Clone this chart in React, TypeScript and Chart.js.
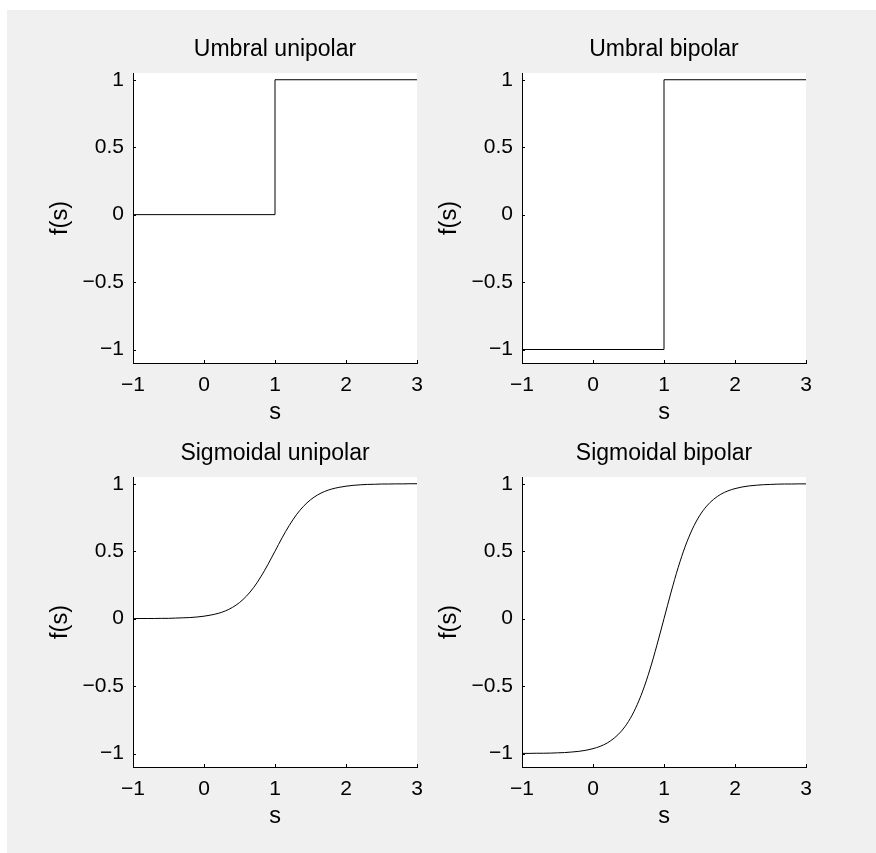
import React, { useEffect, useRef } from "react";
import { Chart, registerables } from "chart.js";

Chart.register(...registerables);

// ---- data ----
const stepS = [-1, 1, 1, 3];
const umbralUnipolar = [0, 0, 1, 1];
const umbralBipolar = [-1, -1, 1, 1];

const sigmoidS = [
  -1.0, -0.9, -0.8, -0.7, -0.6, -0.5, -0.4, -0.3, -0.2, -0.1,
  0.0, 0.1, 0.2, 0.3, 0.4, 0.5, 0.6, 0.7, 0.8, 0.9,
  1.0, 1.1, 1.2, 1.3, 1.4, 1.5, 1.6, 1.7, 1.8, 1.9,
  2.0, 2.1, 2.2, 2.3, 2.4, 2.5, 2.6, 2.7, 2.8, 2.9, 3.0,
];
const sigmoidUnipolar = [
  0.0, 0.001, 0.001, 0.001, 0.002, 0.002, 0.004, 0.006, 0.008, 0.012,
  0.018, 0.027, 0.039, 0.057, 0.083, 0.119, 0.168, 0.231, 0.31, 0.401,
  0.5, 0.599, 0.69, 0.769, 0.832, 0.881, 0.917, 0.943, 0.961, 0.973,
  0.982, 0.988, 0.992, 0.995, 0.996, 0.998, 0.998, 0.999, 0.999, 1.0, 1.0,
];
const sigmoidBipolar = [
  -0.999, -0.999, -0.998, -0.998, -0.997, -0.995, -0.993, -0.989, -0.984, -0.976,
  -0.964, -0.947, -0.922, -0.885, -0.834, -0.762, -0.664, -0.537, -0.38, -0.197,
  0.0, 0.197, 0.38, 0.537, 0.664, 0.762, 0.834, 0.885, 0.922, 0.947,
  0.964, 0.976, 0.984, 0.989, 0.993, 0.995, 0.997, 0.998, 0.998, 0.999, 0.999,
];

const xTicks = [-1, 0, 1, 2, 3];
const yTicks = [-1, -0.5, 0, 0.5, 1];
const xLimits = [-1, 3];
const yLimits = [-1.1, 1.05];

const titles = ["Umbral unipolar", "Umbral bipolar", "Sigmoidal unipolar", "Sigmoidal bipolar"];
const xLabel = "s";
const yLabel = "f(s)";

// ---- layout ----
const FONT = "'Liberation Sans', Arial, Helvetica, sans-serif";
const TICK_SIZE = 21;
const LABEL_SIZE = 23.5;
const TITLE_SIZE = 23;
const Y_AXIS_W = 93;
const X_AXIS_H = 65;
const TITLE_H = 37;
const RIGHT_PAD = 16;
const PLOT_W = 284;
const PLOT_H = 290;

const fmt = (v: number) => (v < 0 ? "\u2212" + String(Math.abs(v)) : String(v));

const plotBg = {
  id: "plotBg",
  beforeDraw(chart: any) {
    const { ctx, chartArea: a } = chart;
    ctx.save();
    ctx.fillStyle = "#ffffff";
    ctx.fillRect(a.left, a.top, a.right - a.left, a.bottom - a.top);
    ctx.restore();
  },
};

const inwardTicks = {
  id: "inwardTicks",
  afterDraw(chart: any) {
    const { ctx, chartArea: a, scales } = chart;
    const x = scales.x;
    const y = scales.y;
    ctx.save();
    ctx.strokeStyle = "#000";
    ctx.lineWidth = 1;
    ctx.beginPath();
    x.ticks.forEach((t: any) => {
      const px = Math.round(x.getPixelForValue(t.value)) + 0.5;
      ctx.moveTo(px, a.bottom);
      ctx.lineTo(px, a.bottom - 3);
    });
    y.ticks.forEach((t: any) => {
      const py = Math.round(y.getPixelForValue(t.value)) + 0.5;
      ctx.moveTo(a.left, py);
      ctx.lineTo(a.left + 3, py);
    });
    ctx.stroke();
    ctx.restore();
  },
};

type PanelProps = {
  title: string;
  xs: number[];
  ys: number[];
  smooth: boolean;
  plotLeft: number;
  plotTop: number;
};

function Panel({ title, xs, ys, smooth, plotLeft, plotTop }: PanelProps) {
  const ref = useRef<HTMLCanvasElement | null>(null);
  const width = Y_AXIS_W + PLOT_W + RIGHT_PAD;
  const height = TITLE_H + PLOT_H + X_AXIS_H;

  useEffect(() => {
    if (!ref.current) return;
    const chart = new Chart(ref.current, {
      type: "line",
      data: {
        datasets: [
          {
            data: xs.map((x, i) => ({ x, y: ys[i] })),
            borderColor: "#000",
            borderWidth: 1,
            pointRadius: 0,
            fill: false,
            tension: 0,
            cubicInterpolationMode: smooth ? "monotone" : "default",
          } as any,
        ],
      },
      options: {
        responsive: false,
        animation: false,
        devicePixelRatio: 1,
        layout: { padding: { left: 0, right: RIGHT_PAD, top: 0, bottom: 0 } },
        plugins: {
          legend: { display: false },
          tooltip: { enabled: false },
          title: {
            display: true,
            fullSize: false,
            text: title,
            color: "#000",
            font: { family: FONT, size: TITLE_SIZE, weight: "normal", lineHeight: "28px" } as any,
            padding: { top: 0, bottom: 9 },
          },
        },
        scales: {
          x: {
            type: "linear",
            min: xLimits[0],
            max: xLimits[1],
            afterBuildTicks: (s: any) => {
              s.ticks = xTicks.map((v) => ({ value: v }));
            },
            afterFit: (s: any) => {
              s.height = X_AXIS_H;
            },
            grid: { display: true, drawOnChartArea: false, drawTicks: false },
            border: { display: true, color: "#000", width: 1 },
            ticks: {
              color: "#000",
              padding: 10,
              maxRotation: 0,
              autoSkip: false,
              font: { family: FONT, size: TICK_SIZE },
              callback: (v: any) => fmt(Number(v)),
            },
            title: {
              display: true,
              text: xLabel,
              color: "#000",
              font: { family: FONT, size: LABEL_SIZE },
              padding: { top: 0, bottom: 1 },
            },
          },
          y: {
            type: "linear",
            min: yLimits[0],
            max: yLimits[1],
            afterBuildTicks: (s: any) => {
              s.ticks = yTicks.map((v) => ({ value: v }));
            },
            afterFit: (s: any) => {
              s.width = Y_AXIS_W;
            },
            grid: { display: true, drawOnChartArea: false, drawTicks: false },
            border: { display: true, color: "#000", width: 1 },
            ticks: {
              color: "#000",
              padding: 9,
              autoSkip: false,
              font: { family: FONT, size: TICK_SIZE },
              callback: (v: any) => fmt(Number(v)),
            },
            title: {
              display: true,
              text: yLabel,
              color: "#000",
              font: { family: FONT, size: LABEL_SIZE },
              padding: { top: 6, bottom: 0 },
            },
          },
        },
      },
      plugins: [plotBg, inwardTicks],
    });
    return () => chart.destroy();
  }, [title, xs, ys, smooth]);

  return (
    <canvas
      ref={ref}
      width={width}
      height={height}
      style={{
        position: "absolute",
        left: plotLeft - Y_AXIS_W,
        top: plotTop - TITLE_H,
        width,
        height,
      }}
    />
  );
}

export default function App() {
  return (
    <div style={{ position: "absolute", left: 0, top: 0, width: 876, height: 853, background: "#ffffff" }}>
      <div style={{ position: "absolute", left: 7, top: 10, width: 869, height: 843, background: "#f0f0f0" }} />
      <Panel title={titles[0]} xs={stepS} ys={umbralUnipolar} smooth={false} plotLeft={133} plotTop={73} />
      <Panel title={titles[1]} xs={stepS} ys={umbralBipolar} smooth={false} plotLeft={522} plotTop={73} />
      <Panel title={titles[2]} xs={sigmoidS} ys={sigmoidUnipolar} smooth={true} plotLeft={133} plotTop={477} />
      <Panel title={titles[3]} xs={sigmoidS} ys={sigmoidBipolar} smooth={true} plotLeft={522} plotTop={477} />
    </div>
  );
}
